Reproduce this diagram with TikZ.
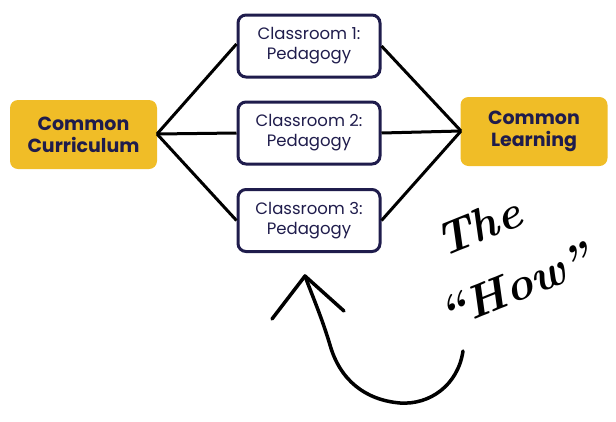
\documentclass[tikz,border=0pt]{standalone}
\usepackage{fontspec}
\setmainfont{Poppins}
\definecolor{gold}{HTML}{F0BD27}
\definecolor{navy}{HTML}{1F1C4C}
\begin{document}
\begin{tikzpicture}[x=1pt,y=-1pt,
  goal/.style={fill=gold,rounded corners=8pt,minimum width=147pt,minimum height=69pt,align=center,text=navy,font=\fontsize{19}{22}\selectfont\bfseries},
  room/.style={draw=navy,line width=3pt,fill=white,rounded corners=8pt,minimum width=142pt,minimum height=62pt,align=center,text=navy,font=\fontsize{16.5}{20}\selectfont},
  link/.style={line width=3pt,black},
  hand/.style={line width=3.5pt,black,line cap=round,line join=round},
  script/.style={rotate=22,inner sep=0pt,font=\fontspec{Latin Modern Roman}\bfseries\itshape\fontsize{46}{46}\selectfont}]
\useasboundingbox (0,0) rectangle (616,421);
\node[goal] (cc) at (83.5,134.5) {Common\\Curriculum};
\node[goal] (cl) at (534,131.5) {Common\\Learning};
\node[room] (r1) at (309,46) {Classroom 1:\\Pedagogy};
\node[room] (r2) at (309,133) {Classroom 2:\\Pedagogy};
\node[room] (r3) at (309,220.5) {Classroom 3:\\Pedagogy};
\coordinate (ccR) at (157,134);
\coordinate (clL) at (461,131);
\draw[link] (ccR) -- ([yshift=2pt]r1.west);
\draw[link] (ccR) -- (r2.west);
\draw[link] (ccR) -- (r3.west);
\draw[link] (r1.east) -- (clL);
\draw[link] (r2.east) -- (clL);
\draw[link] (r3.east) -- (clL);
% hand-drawn arrow
\coordinate (tip) at (305,276);
\coordinate (start) at (463,351);
\draw[hand] (start) .. controls (458,385) and (430,405) .. (400,403)
  .. controls (365,400) and (340,380) .. (330,345)
  .. controls (322,318) and (312,295) .. (tip);
\draw[hand] (272,319) -- (tip) -- (344,311);
% handwritten label
\node[script] (the) at (478,226) {The};
\node[script] (how) at (515,286) {“How”};
\end{tikzpicture}
\end{document}
